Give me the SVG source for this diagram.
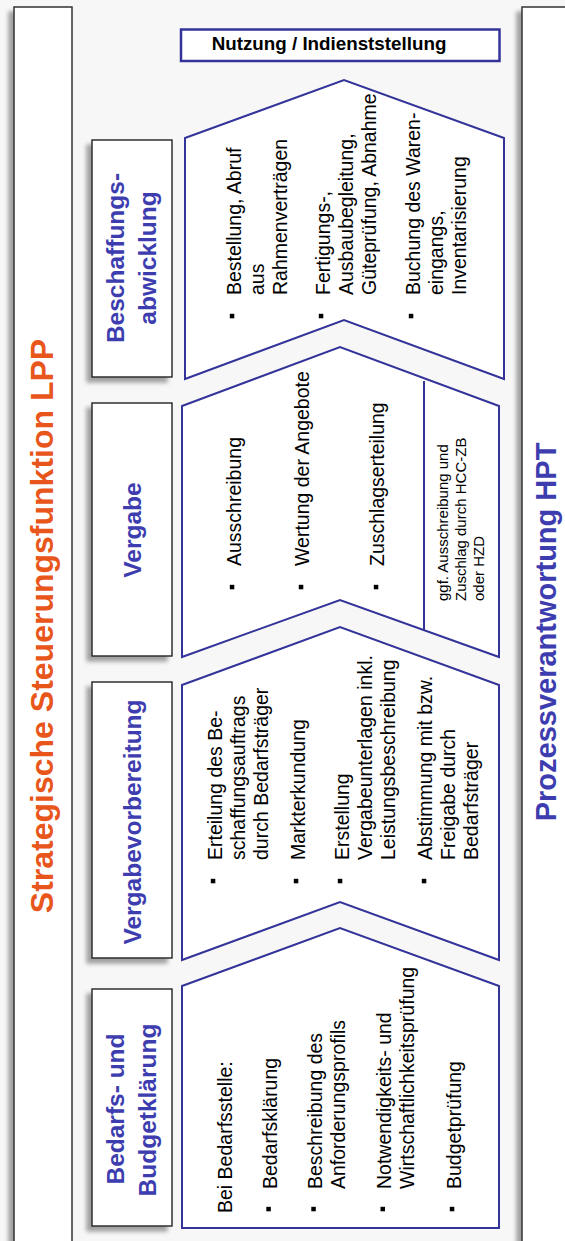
<svg xmlns="http://www.w3.org/2000/svg" width="565" height="1241" viewBox="0 0 565 1241">
  <style>
    .frame { fill: #ffffff; stroke: #333333; stroke-width: 1.5; }
    .lbl { fill: #ffffff; stroke: #222222; stroke-width: 1.4; }
    .chev { fill: #ffffff; stroke: #333399; stroke-width: 2; stroke-linejoin: miter; }
    .div { stroke: #333399; stroke-width: 2; fill: none; }
    .title { font-family: "Liberation Sans", Arial, sans-serif; font-weight: bold; }
    .stage { font-family: "Liberation Sans", Arial, sans-serif; font-weight: bold; font-size: 24.5px; fill: #3d3daf; }
    .body { font-family: "Liberation Sans", Arial, sans-serif; font-size: 19.5px; fill: #000000; }
    .small { font-family: "Liberation Sans", Arial, sans-serif; font-size: 15px; fill: #000000; }
    .bul { fill: #000000; }
  </style>
  <defs>
    <filter id="sh" x="-30%" y="-5%" width="160%" height="115%">
      <feDropShadow dx="-5" dy="5" stdDeviation="2" flood-color="#000000" flood-opacity="0.35"/>
    </filter>
  </defs>

  <rect x="0" y="0" width="565" height="1241" fill="#f7f7f7"/>

  <g id="frame-left">
    <rect class="frame" x="14" y="7" width="58" height="1250" filter="url(#sh)"/>
    <text class="title" transform="translate(53,626) rotate(-90)" text-anchor="middle" font-size="32" fill="#e8561c">Strategische Steuerungsfunktion LPP</text>
  </g>

  <g id="frame-right">
    <rect class="frame" x="522" y="7" width="60" height="1250" filter="url(#sh)"/>
    <text class="title" transform="translate(556,632) rotate(-90)" text-anchor="middle" font-size="29" fill="#3d3daf">Prozessverantwortung HPT</text>
  </g>

  <g id="nutzung">
    <rect x="181" y="29.5" width="318.5" height="31.5" fill="#ffffff" stroke="#333399" stroke-width="2.5"/>
    <text class="title" x="329" y="49.5" text-anchor="middle" font-size="18.8" fill="#000000">Nutzung / Indienststellung</text>
  </g>

  <g id="stage-beschaffungsabwicklung">
    <rect class="lbl" x="92" y="140" width="80" height="237" filter="url(#sh)"/>
    <text class="stage" transform="translate(124,258) rotate(-90)" text-anchor="middle">Beschaffungs-</text>
    <text class="stage" transform="translate(155.5,258) rotate(-90)" text-anchor="middle">abwicklung</text>
    <polygon class="chev" points="185,138 344,80 504,138 504,379 344,320 185,379"/>
    <g class="bul">
      <rect x="229.8" y="313.8" width="4.5" height="4.5"/>
      <rect x="318.8" y="313.8" width="4.5" height="4.5"/>
      <rect x="408.8" y="313.8" width="4.5" height="4.5"/>
    </g>
    <text class="body" transform="translate(240.5,295) rotate(-90)"><tspan x="0" y="0">Bestellung, Abruf</tspan><tspan x="0" y="23">aus</tspan><tspan x="0" y="46">Rahmenverträgen</tspan></text>
    <text class="body" transform="translate(329.5,295) rotate(-90)"><tspan x="0" y="0">Fertigungs-,</tspan><tspan x="0" y="23">Ausbaubegleitung,</tspan><tspan x="0" y="46">Güteprüfung, Abnahme</tspan></text>
    <text class="body" transform="translate(419.5,295) rotate(-90)"><tspan x="0" y="0">Buchung des Waren-</tspan><tspan x="0" y="23">eingangs,</tspan><tspan x="0" y="46">Inventarisierung</tspan></text>
  </g>

  <g id="stage-vergabe">
    <rect class="lbl" x="92" y="403" width="80" height="253" filter="url(#sh)"/>
    <text class="stage" transform="translate(141,530) rotate(-90)" text-anchor="middle">Vergabe</text>
    <polygon class="chev" points="182,406 340,347 499,406 499,657 340,600 182,657"/>
    <line class="div" x1="424" y1="381" x2="424" y2="631"/>
    <g class="bul">
      <rect x="229.8" y="584.8" width="4.5" height="4.5"/>
      <rect x="298.8" y="584.8" width="4.5" height="4.5"/>
      <rect x="373.8" y="584.8" width="4.5" height="4.5"/>
    </g>
    <text class="body" transform="translate(240.5,566) rotate(-90)">Ausschreibung</text>
    <text class="body" transform="translate(309,566) rotate(-90)">Wertung der Angebote</text>
    <text class="body" transform="translate(384,566) rotate(-90)">Zuschlagserteilung</text>
    <text class="small" transform="translate(448,601) rotate(-90)"><tspan x="0" y="0">ggf. Ausschreibung und</tspan><tspan x="0" y="18">Zuschlag durch HCC-ZB</tspan><tspan x="0" y="36">oder HZD</tspan></text>
  </g>

  <g id="stage-vergabevorbereitung">
    <rect class="lbl" x="92" y="682" width="80" height="276" filter="url(#sh)"/>
    <text class="stage" transform="translate(141,822) rotate(-90)" text-anchor="middle">Vergabevorbereitung</text>
    <polygon class="chev" points="182,685 340,627 499,685 499,960 340,902 182,960"/>
    <g class="bul">
      <rect x="210.8" y="878.8" width="4.5" height="4.5"/>
      <rect x="293.8" y="878.8" width="4.5" height="4.5"/>
      <rect x="337.8" y="878.8" width="4.5" height="4.5"/>
      <rect x="421.8" y="878.8" width="4.5" height="4.5"/>
    </g>
    <text class="body" transform="translate(222,860) rotate(-90)"><tspan x="0" y="0">Erteilung des Be-</tspan><tspan x="0" y="23">schaffungsauftrags</tspan><tspan x="0" y="46">durch Bedarfsträger</tspan></text>
    <text class="body" transform="translate(305,860) rotate(-90)">Markterkundung</text>
    <text class="body" transform="translate(349,860) rotate(-90)"><tspan x="0" y="0">Erstellung</tspan><tspan x="0" y="23">Vergabeunterlagen inkl.</tspan><tspan x="0" y="46">Leistungsbeschreibung</tspan></text>
    <text class="body" transform="translate(432,860) rotate(-90)"><tspan x="0" y="0">Abstimmung mit bzw.</tspan><tspan x="0" y="23">Freigabe durch</tspan><tspan x="0" y="46">Bedarfsträger</tspan></text>
  </g>

  <g id="stage-bedarfsklaerung">
    <rect class="lbl" x="92" y="989" width="80" height="237" filter="url(#sh)"/>
    <text class="stage" transform="translate(124,1109) rotate(-90)" text-anchor="middle">Bedarfs- und</text>
    <text class="stage" transform="translate(155.5,1110) rotate(-90)" text-anchor="middle">Budgetklärung</text>
    <polygon class="chev" points="182,986 340,928 499,986 499,1228 182,1228"/>
    <g class="bul">
      <rect x="266.3" y="1206.8" width="4.5" height="4.5"/>
      <rect x="311.3" y="1206.8" width="4.5" height="4.5"/>
      <rect x="380.5" y="1206.8" width="4.5" height="4.5"/>
      <rect x="449.8" y="1206.8" width="4.5" height="4.5"/>
    </g>
    <text class="body" transform="translate(232,1213) rotate(-90)">Bei Bedarfsstelle:</text>
    <text class="body" transform="translate(277,1189) rotate(-90)">Bedarfsklärung</text>
    <text class="body" transform="translate(322,1189) rotate(-90)"><tspan x="0" y="0">Beschreibung des</tspan><tspan x="0" y="23">Anforderungsprofils</tspan></text>
    <text class="body" transform="translate(391,1189) rotate(-90)"><tspan x="0" y="0">Notwendigkeits- und</tspan><tspan x="0" y="23">Wirtschaftlichkeitsprüfung</tspan></text>
    <text class="body" transform="translate(460.5,1189) rotate(-90)">Budgetprüfung</text>
  </g>

  <g id="connectors"/>
</svg>
